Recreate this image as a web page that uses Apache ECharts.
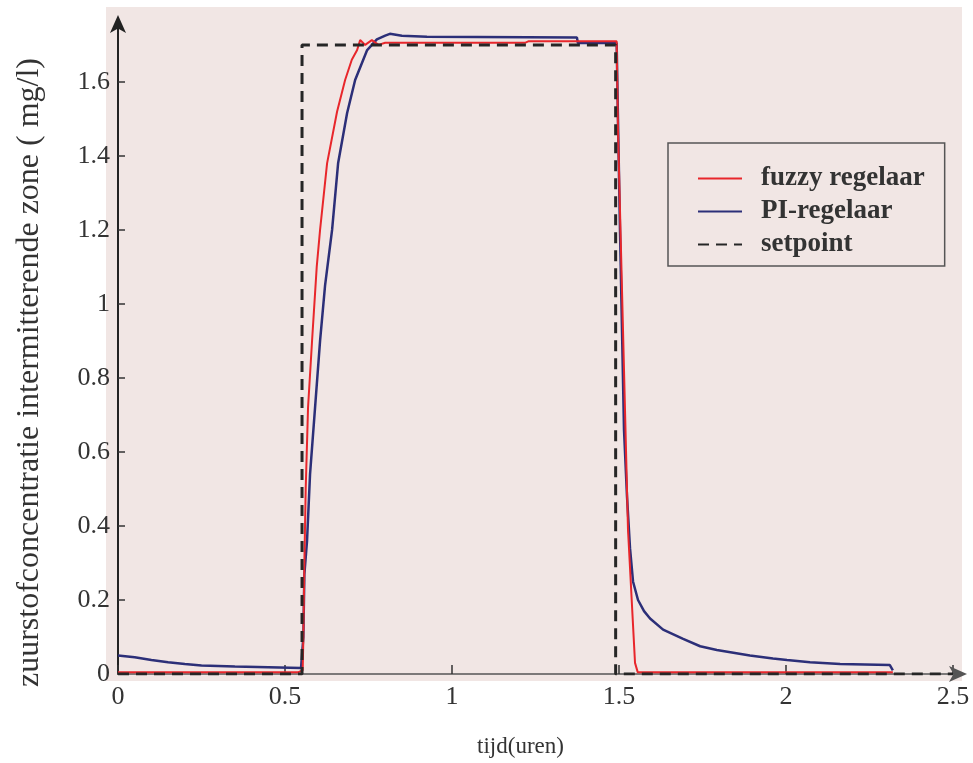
<!DOCTYPE html>
<html>
<head>
<meta charset="utf-8">
<script src="https://cdn.jsdelivr.net/npm/echarts@6/dist/echarts.min.js"></script>
<style>
html,body{margin:0;padding:0;background:#ffffff;}
#chart{width:973px;height:763px;}
</style>
</head>
<body>
<div id="chart"></div>
<script>
// ---- data (time in hours, oxygen concentration in mg/l) ----
const fuzzyT = [0, 0.54, 0.553, 0.555, 0.558, 0.562, 0.569, 0.581, 0.595, 0.605, 0.626, 0.656, 0.68, 0.70, 0.716, 0.725, 0.74, 0.76, 0.78, 0.80, 1.0, 1.22, 1.23, 1.493, 1.497, 1.512, 1.527, 1.548, 1.556, 2.0, 2.32];
const fuzzyV = [0.005, 0.005, 0.01, 0.1, 0.3, 0.5, 0.72, 0.9, 1.1, 1.2, 1.38, 1.52, 1.605, 1.66, 1.686, 1.713, 1.70, 1.713, 1.70, 1.706, 1.706, 1.706, 1.71, 1.71, 1.47, 0.93, 0.39, 0.03, 0.005, 0.005, 0.005];

const piT = [0, 0.05, 0.1, 0.15, 0.2, 0.25, 0.35, 0.45, 0.548, 0.551, 0.555, 0.558, 0.566, 0.575, 0.590, 0.605, 0.62, 0.641, 0.659, 0.686, 0.71, 0.746, 0.775, 0.8, 0.814, 0.85, 0.925, 1.374, 1.377, 1.493, 1.497, 1.503, 1.509, 1.515, 1.524, 1.533, 1.542, 1.557, 1.575, 1.593, 1.632, 1.692, 1.743, 1.793, 1.892, 1.961, 2.003, 2.072, 2.162, 2.311, 2.32];
const piV = [0.05, 0.045, 0.038, 0.032, 0.027, 0.023, 0.02, 0.018, 0.016, 0.015, 0.1, 0.27, 0.36, 0.54, 0.72, 0.9, 1.05, 1.2, 1.38, 1.516, 1.605, 1.686, 1.715, 1.725, 1.73, 1.725, 1.722, 1.72, 1.705, 1.705, 1.5, 1.2, 0.93, 0.66, 0.48, 0.34, 0.25, 0.2, 0.17, 0.15, 0.12, 0.095, 0.075, 0.065, 0.05, 0.042, 0.038, 0.032, 0.027, 0.024, 0.01];

const setT = [0, 0.551, 0.551, 1.49, 1.49, 2.5];
const setV = [0, 0, 1.7, 1.7, 0, 0];

const xTicks = [0, 0.5, 1, 1.5, 2, 2.5];
const yTicks = [0, 0.2, 0.4, 0.6, 0.8, 1, 1.2, 1.4, 1.6];

const seriesNames = ['fuzzy regelaar', 'PI-regelaar', 'setpoint'];
const xTitle = 'tijd(uren)';
const yTitle = 'zuurstofconcentratie intermitterende zone ( mg/l)';

const zip = (a, b) => a.map((v, i) => [v, b[i]]);

const FONT = 'Liberation Serif';
const PINK = '#f1e6e4';

const chart = echarts.init(document.getElementById('chart'), null, {renderer: 'canvas'});
chart.setOption({
  animation: false,
  backgroundColor: '#ffffff',
  graphic: [{
    type: 'rect', z: -10, silent: true,
    shape: {x: 106, y: 7, width: 856, height: 674},
    style: {fill: PINK}
  }],
  grid: {left: 118, right: 10, top: 19, bottom: 89, containLabel: false},
  legend: {
    data: seriesNames,
    orient: 'vertical',
    left: 668, top: 143,
    padding: [22, 20, 8, 29],
    itemGap: 6,
    itemWidth: 44, itemHeight: 14,
    backgroundColor: PINK,
    borderColor: '#555', borderWidth: 1.5, borderRadius: 0,
    itemStyle: {opacity: 0},
    textStyle: {fontFamily: FONT, fontSize: 27, fontWeight: 'bold', color: '#333', lineHeight: 26, padding: [0, 0, 0, 14]}
  },
  xAxis: {
    type: 'value', min: 0, max: 2.53,
    name: xTitle, nameLocation: 'middle', nameGap: 61,
    nameTextStyle: {fontFamily: FONT, fontSize: 23, color: '#333', padding: [0, 40, 0, 0]},
    axisLine: {show: true, onZero: false, symbol: ['none', 'arrow'], symbolSize: [12, 18], symbolOffset: [0, 4], lineStyle: {color: '#555', width: 1.5}},
    axisTick: {show: true, inside: true, length: 9, customValues: xTicks, lineStyle: {color: '#333', width: 1.5}},
    axisLabel: {customValues: xTicks, fontFamily: FONT, fontSize: 26, color: '#333', margin: 10,
      formatter: v => String(v)},
    splitLine: {show: false}
  },
  yAxis: {
    type: 'value', min: 0, max: 1.77,
    name: yTitle, nameLocation: 'middle', nameGap: 72, nameRotate: 90,
    nameTextStyle: {fontFamily: FONT, fontSize: 32, color: '#333', padding: [0, 52, 0, 0]},
    axisLine: {show: true, onZero: false, symbol: ['none', 'arrow'], symbolSize: [12, 18], symbolOffset: [0, 4], lineStyle: {color: '#222', width: 2}},
    axisTick: {show: true, inside: true, length: 7, customValues: yTicks, lineStyle: {color: '#333', width: 1.5}},
    axisLabel: {customValues: yTicks, fontFamily: FONT, fontSize: 26, color: '#333', margin: 8,
      formatter: v => String(v)},
    splitLine: {show: false}
  },
  series: [
    {name: seriesNames[1], type: 'line', data: zip(piT, piV), symbol: 'none', showSymbol: false, z: 2,
      lineStyle: {color: '#2c2f78', width: 2.5}, itemStyle: {color: '#2c2f78'}},
    {name: seriesNames[0], type: 'line', data: zip(fuzzyT, fuzzyV), symbol: 'none', showSymbol: false, z: 3,
      lineStyle: {color: '#e8262b', width: 2}, itemStyle: {color: '#e8262b'}},
    {name: seriesNames[2], type: 'line', data: zip(setT, setV), symbol: 'none', showSymbol: false, z: 4,
      lineStyle: {color: '#262626', width: 3, type: [11, 7]}, itemStyle: {color: '#262626'}}
  ]
});
</script>
</body>
</html>
